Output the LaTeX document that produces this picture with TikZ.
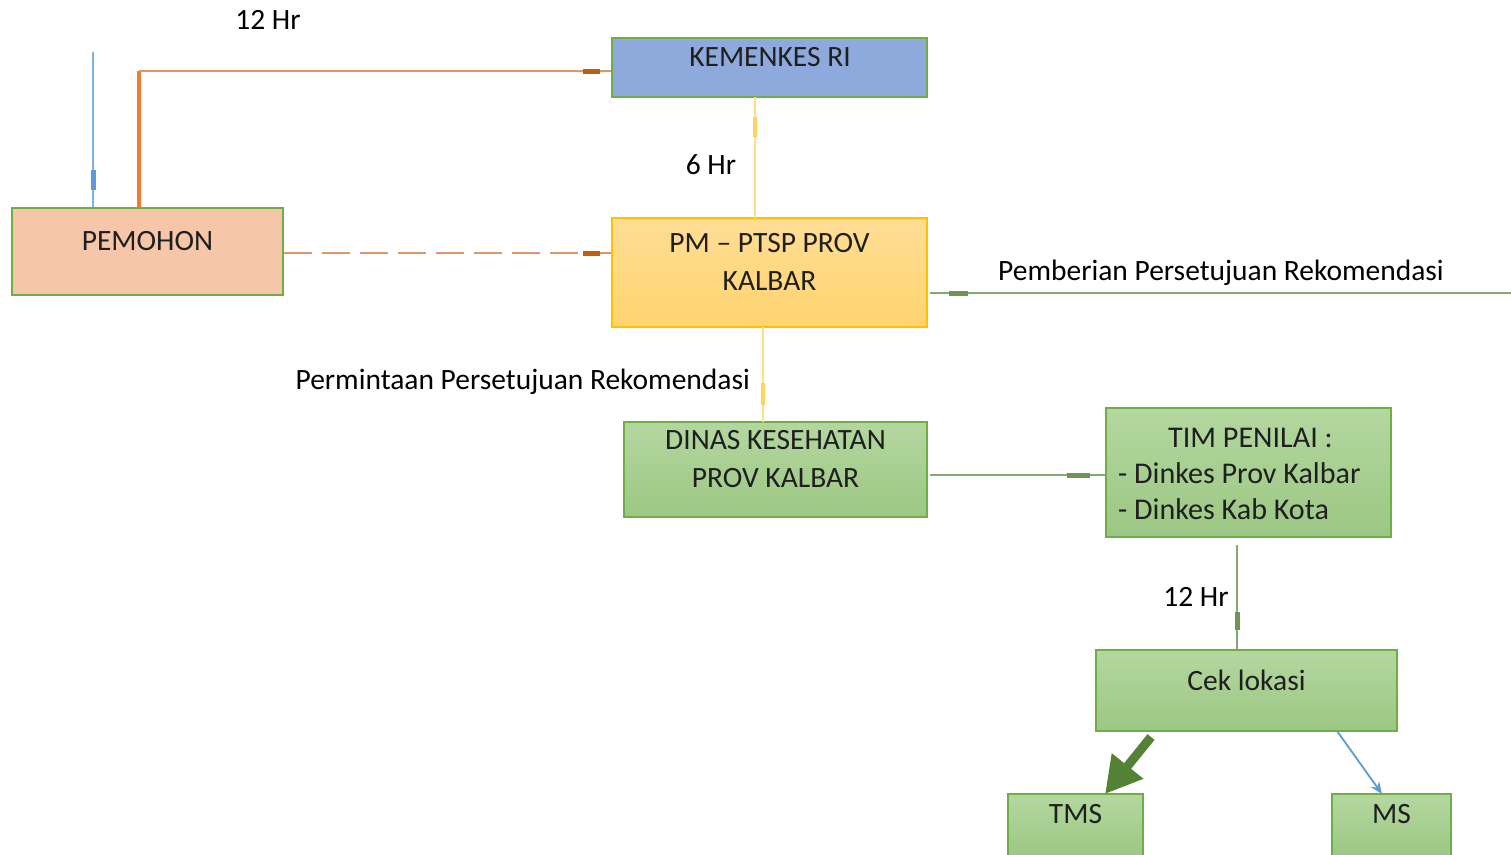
\documentclass[tikz,border=0pt]{standalone}
\usepackage{fontspec}
\setmainfont{Carlito}
\usetikzlibrary{arrows.meta}
\definecolor{cgreenb}{HTML}{70AD47}
\definecolor{cgreenl}{HTML}{86A872}
\definecolor{cgreend}{HTML}{548235}
\definecolor{corange}{HTML}{E0956A}
\definecolor{corangev}{HTML}{ED7D31}
\definecolor{corangem}{HTML}{C55A11}
\definecolor{cblue}{HTML}{7FB2E5}
\definecolor{cbluem}{HTML}{5B9BD5}
\definecolor{cyel}{HTML}{FFDF8A}
\definecolor{cyelm}{HTML}{FFD35C}
\definecolor{cpeach}{HTML}{F6C6A9}
\definecolor{ckem}{HTML}{8EA9DB}
\definecolor{cptspT}{HTML}{FFDD96}
\definecolor{cptspB}{HTML}{FFD46E}
\definecolor{cptspD}{HTML}{FFC000}
\definecolor{cgT}{HTML}{B4D7A0}
\definecolor{cgB}{HTML}{9CC783}
\tikzset{
  box/.style={draw=cgreenb, line width=2.2bp, rectangle, inner sep=0pt},
  gbox/.style={box, top color=cgT, bottom color=cgB},
  btext/.style={font=\fontsize{29.6}{38}\selectfont, text=black!88, align=center, inner sep=0pt},
  lbl/.style={font=\fontsize{29.6}{35}\selectfont, inner sep=0pt},
  gline/.style={draw=cgreenl, line width=2.2bp},
  gmark/.style={draw=cgreend!85, line width=5bp},
}
\begin{document}
\begin{tikzpicture}[x=1bp,y=-1bp]
\useasboundingbox (0,0) rectangle (1511,854);
% boxes
\node[box, fill=ckem, minimum width=315bp, minimum height=59bp] (kem) at (769.5,67.5) {};
\node[btext] (kemt) at (770,57) {KEMENKES RI};
\node[box, fill=cpeach, minimum width=271bp, minimum height=87bp] (pem) at (147.5,251.5) {};
\node[btext] (pemt) at (147.5,241) {PEMOHON};
\node[draw=cptspD, line width=2.2bp, top color=cptspT, bottom color=cptspB, minimum width=315bp, minimum height=109bp, inner sep=0pt] (ptsp) at (769.5,272.5) {};
\node[btext] (ptspt) at (769.5,262) {PM -- PTSP PROV\\KALBAR};
\node[gbox, minimum width=303bp, minimum height=95bp] (din) at (775.5,469.5) {};
\node[btext] (dint) at (775.5,459) {DINAS KESEHATAN\\PROV KALBAR};
\node[gbox, minimum width=285bp, minimum height=129bp] (tim) at (1248.5,472.5) {};
\node[btext, align=left, font=\fontsize{30.2}{36}\selectfont, anchor=west] (timt) at (1118,474) {\hspace*{50bp}TIM PENILAI :\\- Dinkes Prov Kalbar\\- Dinkes Kab Kota};
\node[gbox, minimum width=301bp, minimum height=81bp] (cek) at (1246.5,690.5) {};
\node[btext] (cekt) at (1246.5,680) {Cek lokasi};
\node[gbox, minimum width=135bp, minimum height=64bp] (tms) at (1075.5,826) {};
\node[btext] (tmst) at (1075.5,814) {TMS};
\node[gbox, minimum width=119bp, minimum height=64bp] (ms) at (1391.5,826) {};
\node[btext] (mst) at (1391.5,814) {MS};
% free ends
\coordinate (bluetop) at (93,52);
\coordinate (corner) at (139,71);
\coordinate (grend) at (1511,293);
\coordinate (timbot) at (1237,545);
% blue line
\draw[draw=cblue, line width=1.8bp] (bluetop) -- (bluetop |- pem.north);
\draw[draw=cbluem, line width=5bp] (93,170) -- (93,190);
% orange L-line
\draw[draw=corangev, line width=3.2bp] (corner |- pem.north) -- (corner);
\draw[draw=corange, line width=2.4bp] (corner) -- (corner -| kem.west);
\draw[draw=corangem, line width=5bp] (583,71) -- (600,71);
% dashed orange
\draw[draw=corange, line width=2.4bp, dash pattern=on 28bp off 10bp] (pem.east |- 0,253) -- (ptsp.west |- 0,253);
\draw[draw=corangem, line width=5bp] (583,253) -- (600,253);
% yellow upper
\draw[draw=cyel, line width=1.6bp] (755,218) -- (755,97);
\draw[draw=cyelm, line width=4bp] (755,117) -- (755,137);
% yellow lower
\draw[draw=cyel, line width=1.6bp] (763,327) -- (763,422);
\draw[draw=cyelm, line width=4bp] (763,383) -- (763,405);
% green lines
\draw[gline] (930,293) -- (grend);
\draw[gmark] (949,293) -- (968,293);
\draw[gline] (930,475) -- (tim.west |- 0,475);
\draw[gmark] (1067,475) -- (1090,475);
\draw[gline] (timbot) -- (timbot |- cek.north);
\draw[gmark] (1237,612) -- (1237,630);
% arrows to TMS / MS
\draw[draw=cgreend, line width=9bp, -{Triangle[length=36bp,width=38bp]}] (1151,737) -- (1105,794);
\draw[draw=cbluem, line width=1.8bp, -{Stealth[length=12bp,width=10bp]}] (1337,731) -- (1382,794);
% labels
\node[lbl] (l12a) at (268,20) {12 Hr};
\node[lbl] (l6) at (711,165) {6 Hr};
\node[lbl, anchor=east] (lperm) at (750,382) {Permintaan Persetujuan Rekomendasi};
\node[lbl, anchor=west] (lpemb) at (998,273) {Pemberian Persetujuan Rekomendasi};
\node[lbl] (l12b) at (1196,597) {12 Hr};
\end{tikzpicture}
\end{document}
